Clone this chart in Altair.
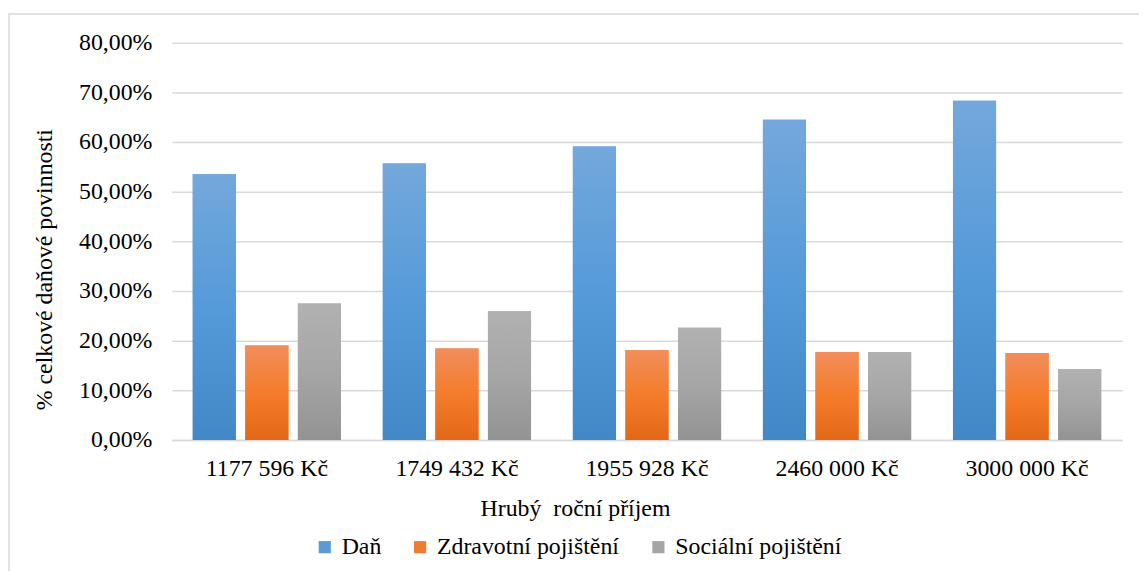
import altair as alt
import pandas as pd

categories = ["1177 596 Kč", "1749 432 Kč", "1955 928 Kč", "2460 000 Kč", "3000 000 Kč"]
series = ["Daň", "Zdravotní pojištění", "Sociální pojištění"]
dan = [0.535, 0.557, 0.591, 0.645, 0.683]
zdrav = [0.190, 0.184, 0.181, 0.177, 0.175]
soc = [0.275, 0.259, 0.226, 0.177, 0.143]
y_ticks = [0.0, 0.1, 0.2, 0.3, 0.4, 0.5, 0.6, 0.7, 0.8]

flat_colors = ["#5b9bd5", "#ed7d31", "#a5a5a5"]
gradients = {
    "Daň": ["#74a8dc", "#559ad9", "#4287c6"],
    "Zdravotní pojištění": ["#f18e5c", "#f47c2a", "#e26818"],
    "Sociální pojištění": ["#b1b1b1", "#a6a6a6", "#939393"],
}

rows = []
for i, c in enumerate(categories):
    rows.append({"cat": c, "series": series[0], "value": dan[i]})
    rows.append({"cat": c, "series": series[1], "value": zdrav[i]})
    rows.append({"cat": c, "series": series[2], "value": soc[i]})
df = pd.DataFrame(rows)

FONT = "Times New Roman, Liberation Serif, serif"
FS = 24
W, H = 957, 400

x_enc = alt.X("cat:N", sort=categories,
              scale=alt.Scale(paddingInner=0.22, paddingOuter=0.11),
              axis=alt.Axis(title="Hrubý\u00a0 roční příjem", labelAngle=0, ticks=False,
                            domainColor="#d9d9d9", domainWidth=1.5,
                            labelFontSize=FS, labelPadding=17, labelColor="#000000",
                            titleFontSize=FS, titleFontWeight="normal", titleColor="#000000",
                            titleX=406, titleY=76, titleBaseline="alphabetic", titleAlign="center",
                            labelFont=FONT, titleFont=FONT, grid=False))
xo_enc = alt.XOffset("series:N", sort=series,
                     scale=alt.Scale(domain=series, paddingInner=0.18, paddingOuter=0))
y_enc = alt.Y("value:Q",
              scale=alt.Scale(domain=[0, 0.8], nice=False),
              axis=alt.Axis(title="% celkové daňové povinnosti", values=y_ticks,
                            labelExpr="replace(format(datum.value, '.2%'), '.', ',')",
                            domain=False, ticks=False, gridColor="#d9d9d9", gridWidth=1.5,
                            labelFontSize=FS, labelPadding=20, labelColor="#000000",
                            titleFontSize=FS, titleFontWeight="normal", titleColor="#000000",
                            titleX=-128, titleY=228, titleBaseline="middle",
                            labelFont=FONT, titleFont=FONT))

base = alt.Chart(df).mark_bar().encode(
    x=x_enc, xOffset=xo_enc, y=y_enc,
    color=alt.Color("series:N", sort=series,
                    scale=alt.Scale(domain=series, range=flat_colors),
                    legend=alt.Legend(title=None, orient="none", direction="horizontal",
                                      legendX=142, legendY=496, symbolType="square",
                                      symbolSize=150, symbolStrokeWidth=0,
                                      labelFontSize=FS, labelFont=FONT, labelColor="#000000",
                                      labelOffset=5, columnPadding=27, labelLimit=0)),
)

layers = [base]
for s in series:
    st = gradients[s]
    g = alt.Gradient(gradient="linear", x1=0, x2=0, y1=0, y2=1,
                     stops=[alt.GradientStop(color=st[0], offset=0),
                            alt.GradientStop(color=st[1], offset=0.5),
                            alt.GradientStop(color=st[2], offset=1)])
    layers.append(
        alt.Chart(df).transform_filter(alt.datum.series == s)
        .mark_bar(color=g)
        .encode(x=x_enc, xOffset=xo_enc, y=y_enc)
    )

border = alt.Chart(alt.Data(values=[{"a": 1}])).mark_rect(
    fill="transparent", stroke="#d9d9d9", strokeWidth=1.5
).encode(x=alt.value(-164), x2=alt.value(W + 40), y=alt.value(-29), y2=alt.value(H + 160))
layers.append(border)

chart = alt.layer(*layers).properties(
    width=W, height=H,
    autosize=alt.AutoSizeParams(type="none"),
    padding={"left": 165, "top": 33, "right": 17, "bottom": 130},
).configure(font=FONT).configure_view(stroke=None)

chart.save("out.html", embed_options={"renderer": "svg", "actions": False})
